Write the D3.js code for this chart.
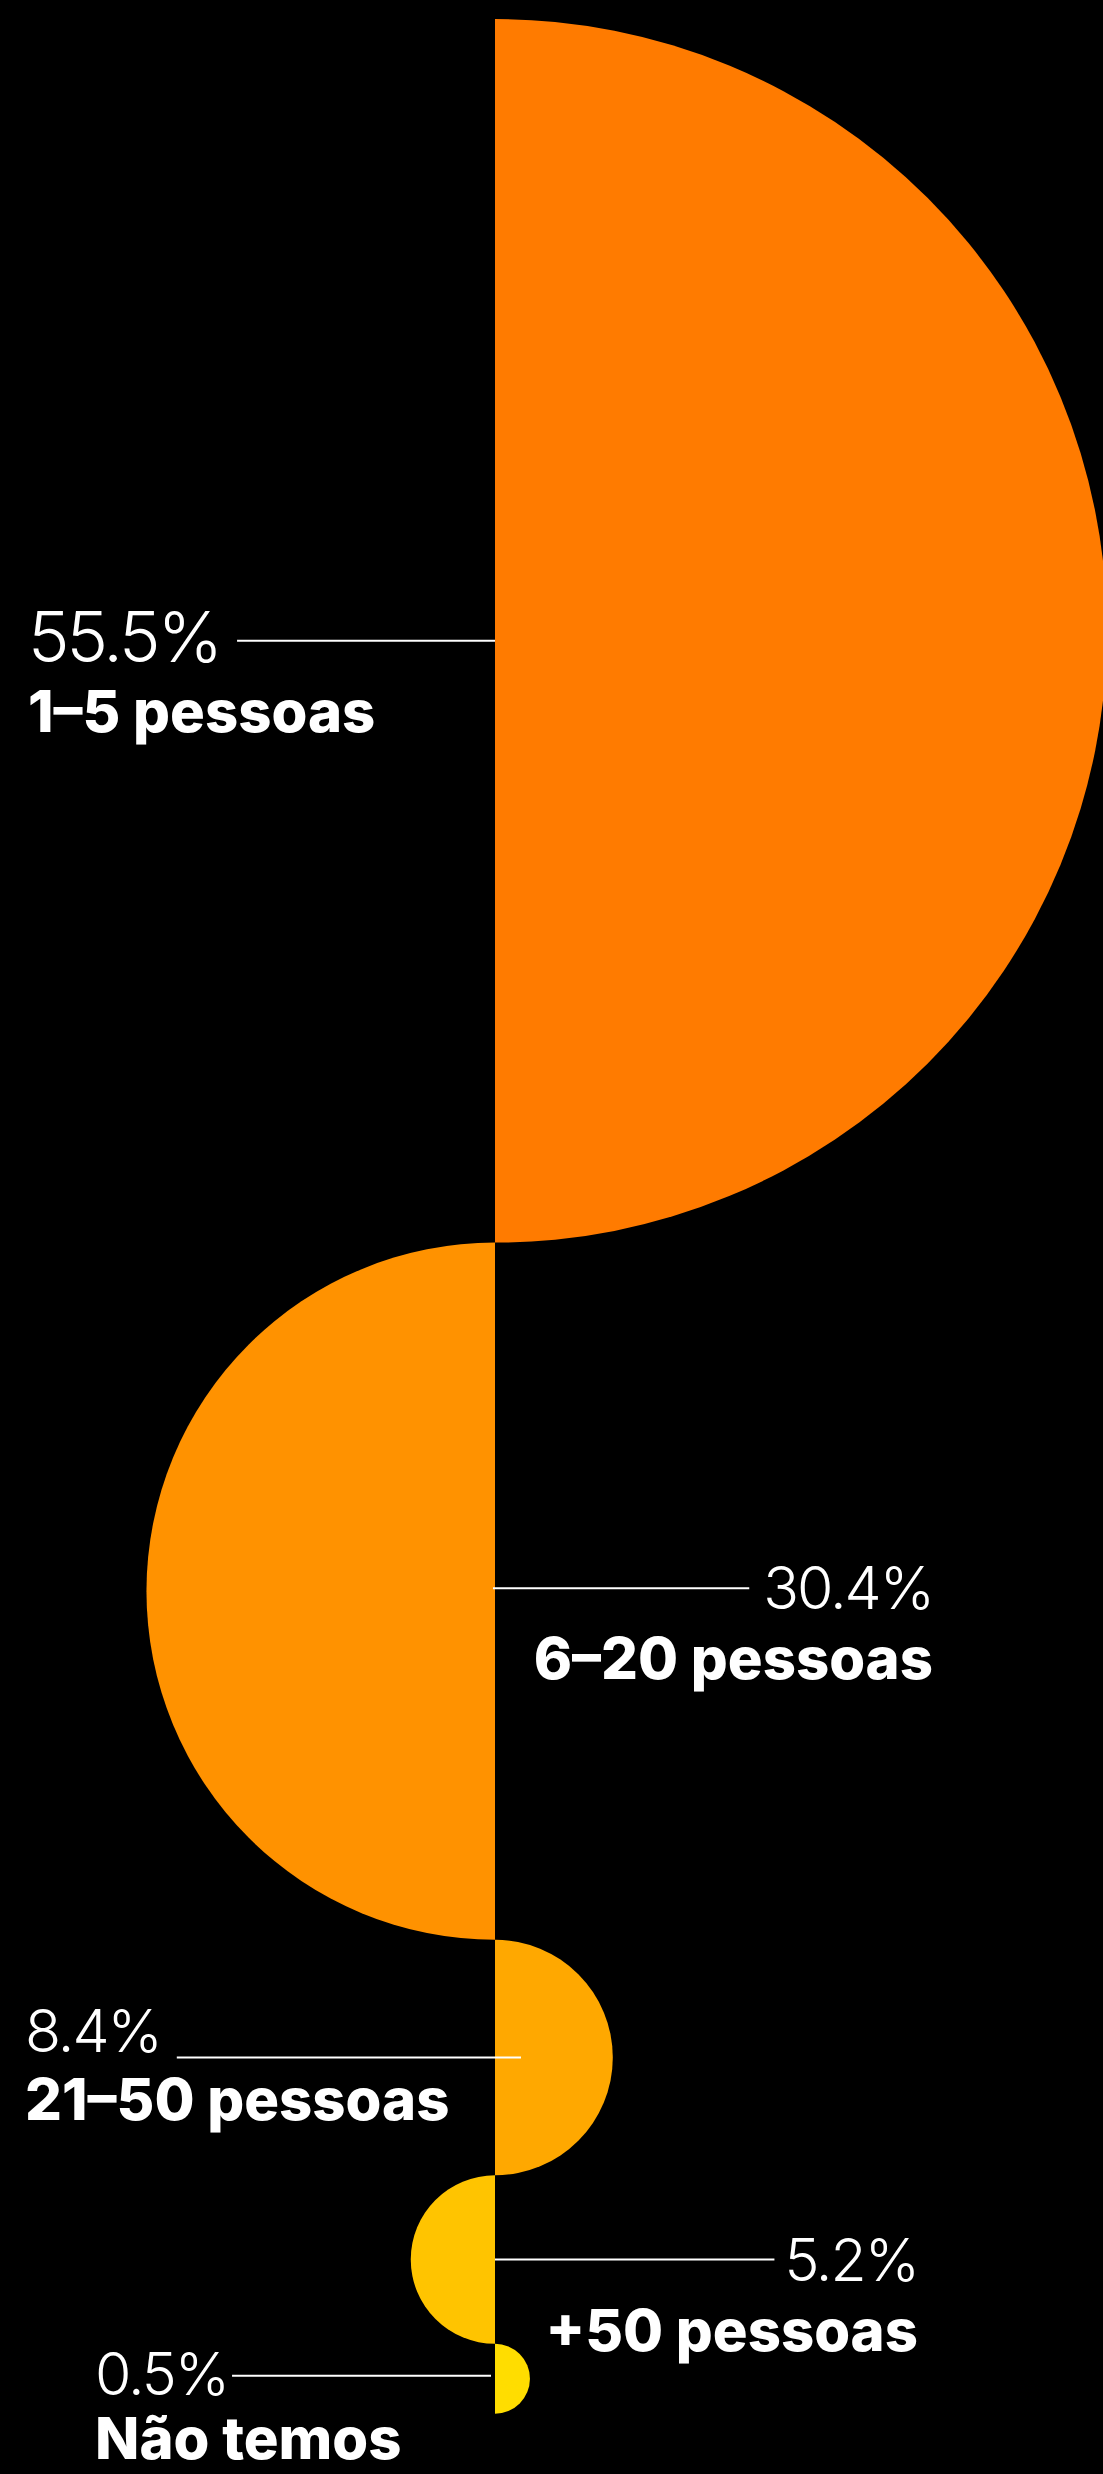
<!DOCTYPE html>
<html>
<head>
<meta charset="utf-8">
<script src="https://cdn.jsdelivr.net/npm/d3@7"></script>
<style>
  html, body { margin: 0; padding: 0; background: #000; }
  svg { display: block; }
</style>
</head>
<body>
<svg id="chart"></svg>
<script>
// Team size distribution, stacked half-discs
const categories = ["1–5 pessoas", "6–20 pessoas", "21–50 pessoas", "+50 pessoas", "Não temos"];
const shares = [55.5, 30.4, 8.4, 5.2, 0.5];
const shareLabels = ["55.5%", "30.4%", "8.4%", "5.2%", "0.5%"];
const fills = ["#FF7B00", "#FF9200", "#FFA800", "#FFC400", "#FFDD00"];

const W = 1103, H = 2474;
const axisX = 495;      // shared vertical spine
const topY = 19;

const svg = d3.select("#chart").attr("width", W).attr("height", H);
svg.append("rect").attr("width", W).attr("height", H).attr("fill", "#000");

// half-disc radius grows linearly with the share
const r = d3.scaleLinear().domain([0, d3.max(shares)]).range([29.7, 611.8]);

// stack the half-discs top to bottom, alternating right / left
let cursor = topY;
const items = shares.map((v, i) => {
  const rad = r(v);
  const cy = cursor + rad;
  cursor += 2 * rad;
  return { i, v, rad, cy, right: i % 2 === 0 };
});

const arc = d3.arc().innerRadius(0);

svg.append("g").selectAll("path")
  .data(items)
  .join("path")
  .attr("transform", d => `translate(${axisX},${d.cy})`)
  .attr("fill", (d, i) => fills[i])
  .attr("d", d => arc({
    outerRadius: d.rad,
    startAngle: d.right ? 0 : Math.PI,
    endAngle: d.right ? Math.PI : 2 * Math.PI
  }));

// label placement: text anchor x, leader reach past the spine, gap to the number,
// vertical offsets of leader / number / name, and number size
const labelLayout = [
  { textX: 28,  anchor: "start", reach: 0,  gap: 17, lineDy: 10, numDy: 21, nameGap: 70, numSize: 70, numSpacing: -3 },
  { textX: 933, anchor: "end",   reach: -2, gap: 14, lineDy: -3, numDy: 21, nameGap: 70, numSize: 59, numSpacing: -2 },
  { textX: 25,  anchor: "start", reach: 26, gap: 16, lineDy: 0,  numDy: -5, nameGap: 68, numSize: 59, numSpacing: -2 },
  { textX: 918, anchor: "end",   reach: 0,  gap: 10, lineDy: 0,  numDy: 21, nameGap: 70, numSize: 59, numSpacing: -2 },
  { textX: 95,  anchor: "start", reach: -4, gap: 4,  lineDy: -3, numDy: 19, nameGap: 64, numSize: 59, numSpacing: -2 }
];

const labels = svg.append("g").selectAll("g")
  .data(items)
  .join("g");

const leaders = labels.append("line")
  .attr("stroke", "#fff")
  .attr("stroke-width", 2);

const nums = labels.append("text")
  .attr("x", d => labelLayout[d.i].textX)
  .attr("y", d => d.cy + labelLayout[d.i].lineDy + labelLayout[d.i].numDy)
  .attr("text-anchor", d => labelLayout[d.i].anchor)
  .attr("fill", "#fff")
  .style("font-family", "Inter, 'Noto Sans', sans-serif")
  .style("font-weight", 300)
  .style("font-size", d => labelLayout[d.i].numSize + "px")
  .style("letter-spacing", d => labelLayout[d.i].numSpacing + "px")
  .text(d => shareLabels[d.i]);

labels.append("text")
  .attr("x", d => labelLayout[d.i].textX)
  .attr("y", d => d.cy + labelLayout[d.i].lineDy + labelLayout[d.i].numDy + labelLayout[d.i].nameGap)
  .attr("text-anchor", d => labelLayout[d.i].anchor)
  .attr("fill", "#fff")
  .style("font-family", "Inter, 'Noto Sans', sans-serif")
  .style("font-weight", 800)
  .style("font-size", "58px")
  .text(d => categories[d.i]);

// leaders run from the spine to just short of the number
nums.each(function(d) {
  const L = labelLayout[d.i];
  const bb = this.getBBox();
  const y = d.cy + L.lineDy;
  let x1, x2;
  if (L.anchor === "start") {
    x1 = bb.x + bb.width + L.gap;
    x2 = axisX + L.reach;
  } else {
    x1 = axisX + L.reach;
    x2 = bb.x - L.gap;
  }
  d3.select(leaders.nodes()[d.i])
    .attr("x1", x1).attr("x2", x2)
    .attr("y1", y).attr("y2", y);
});
</script>
</body>
</html>
